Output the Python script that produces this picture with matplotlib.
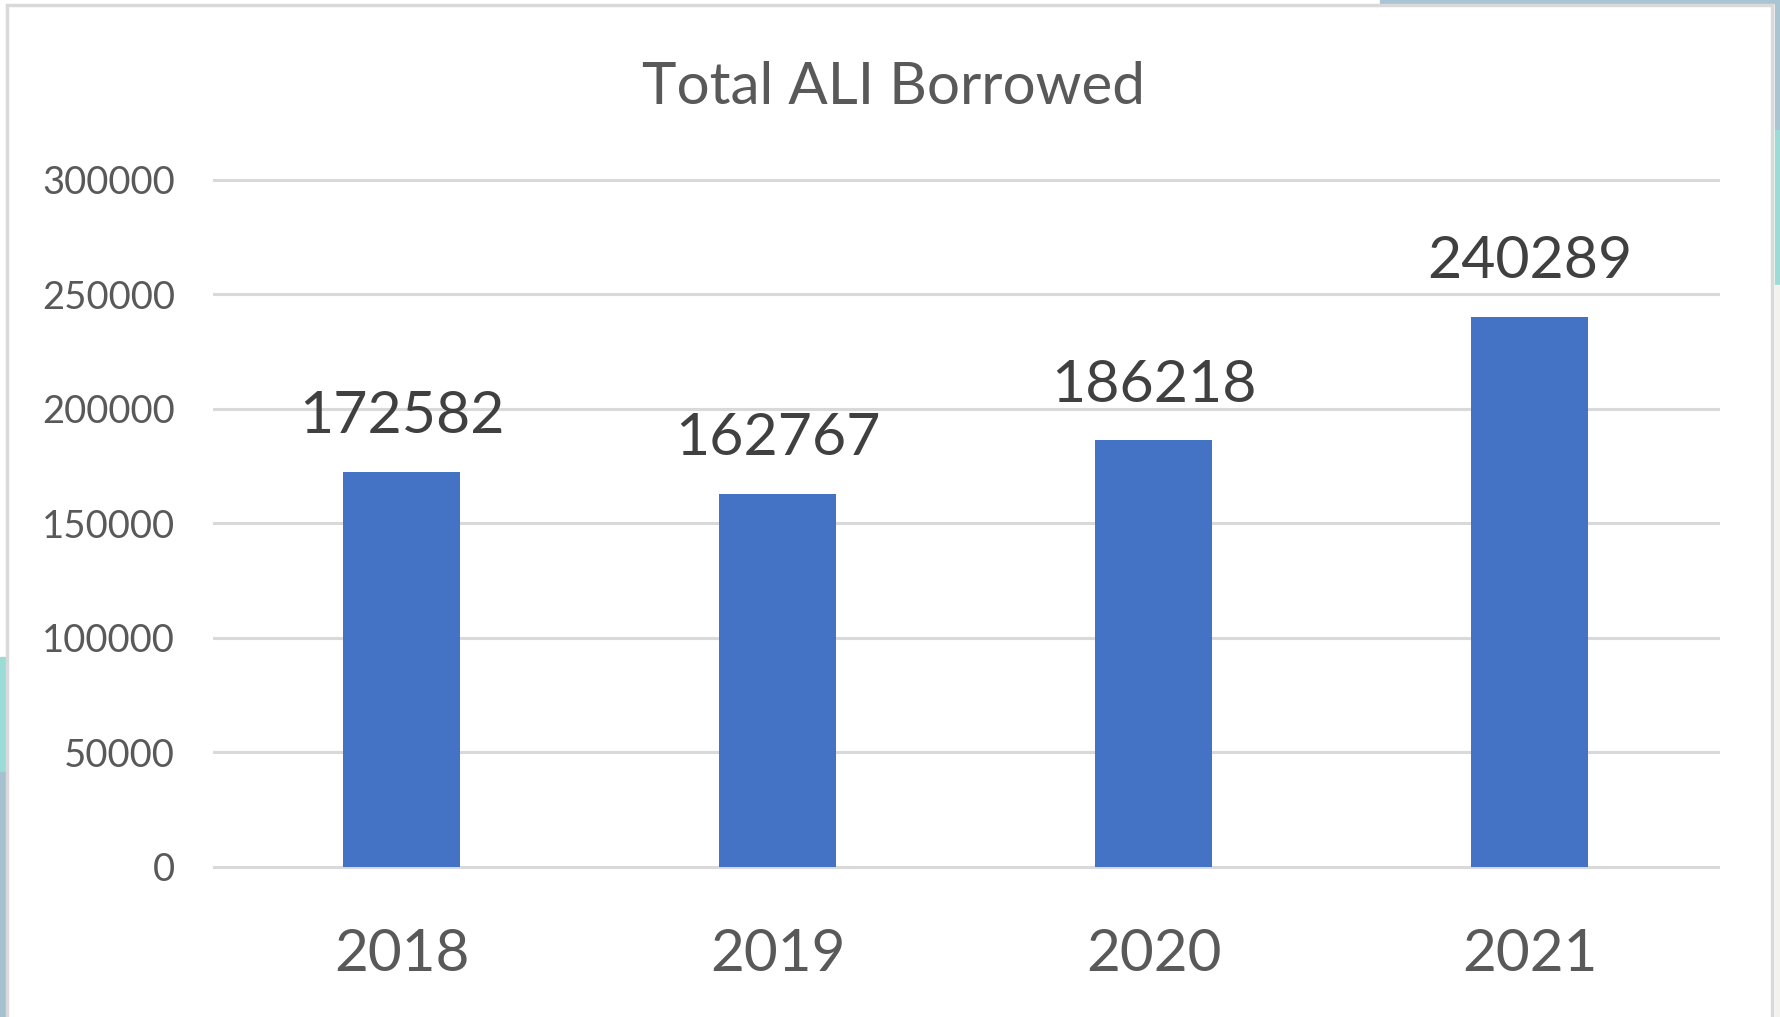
import matplotlib

matplotlib.use("Agg")
import matplotlib.pyplot as plt
from matplotlib.patches import Rectangle

plt.rcParams["font.family"] = ["Lato", "DejaVu Sans"]

# chart values
years = ["2018", "2019", "2020", "2021"]
borrowed = [172582, 162767, 186218, 240289]
y_ticks = [0, 50000, 100000, 150000, 200000, 250000, 300000]
title = "Total ALI Borrowed"

BAR_COLOR = "#4472C4"
GRID_COLOR = "#d9d9d9"
TEXT_GRAY = "#595959"
LABEL_DARK = "#404040"

W, H = 1781, 1017
fig = plt.figure(figsize=(W / 100, H / 100), dpi=100)
fig.patch.set_facecolor("white")

# bits of the slide background that show around the chart frame
fig.patches.append(Rectangle((1775 / W, 1 - 130 / H), 6 / W, 130 / H,
                             transform=fig.transFigure, color="#a9c4d2", zorder=0))
fig.patches.append(Rectangle((1775 / W, 1 - 285 / H), 6 / W, 155 / H,
                             transform=fig.transFigure, color="#9ddcd6", zorder=0))
fig.patches.append(Rectangle((1775 / W, 0), 6 / W, 1 - 285 / H,
                             transform=fig.transFigure, color="#f4f2ef", zorder=0))
fig.patches.append(Rectangle((1380 / W, 1 - 3 / H), 401 / W, 3 / H,
                             transform=fig.transFigure, color="#a9c4d2", zorder=0))
fig.patches.append(Rectangle((0, 1 - 772 / H), 5 / W, 115 / H,
                             transform=fig.transFigure, color="#9ddcd6", zorder=0))
fig.patches.append(Rectangle((0, 0), 5 / W, 1 - 772 / H,
                             transform=fig.transFigure, color="#a5c1cf", zorder=0))
# chart frame
fig.patches.append(Rectangle((7 / W, -0.05), 1765 / W, 1.05 - 5 / H,
                             transform=fig.transFigure, facecolor="none",
                             edgecolor=GRID_COLOR, lw=2.5, zorder=1))

ax = fig.add_axes([213.6 / W, 1 - 866.8 / H, 1504 / W, 686.8 / H])
ax.set_facecolor("none")

x = range(len(years))
ax.bar(x, borrowed, width=0.313, color=BAR_COLOR, zorder=3)

for i, v in enumerate(borrowed):
    ax.annotate(str(v), (i, v), xytext=(0, 28), textcoords="offset points",
                ha="center", va="baseline", fontsize=42.5, color=LABEL_DARK)

ax.set_xlim(-0.5, len(years) - 0.5)
ax.set_ylim(0, 300000)
ax.set_xticks(list(x))
ax.set_xticklabels(years)
ax.set_yticks(y_ticks)
ax.set_yticklabels([str(t) for t in y_ticks])

ax.tick_params(axis="x", length=0, pad=44, labelsize=42, labelcolor=TEXT_GRAY)
ax.tick_params(axis="y", length=0, pad=27.8, labelsize=27.5, labelcolor=TEXT_GRAY)

for s in ax.spines.values():
    s.set_visible(False)
ax.yaxis.grid(True, color=GRID_COLOR, lw=2.2)
for gl in ax.get_ygridlines():
    gl.set_clip_on(False)
ax.set_axisbelow(True)

fig.text(893 / W, 1 - 104 / H, title, ha="center", va="baseline",
         fontsize=42, color=TEXT_GRAY)

fig.savefig("out.png", dpi=100)
